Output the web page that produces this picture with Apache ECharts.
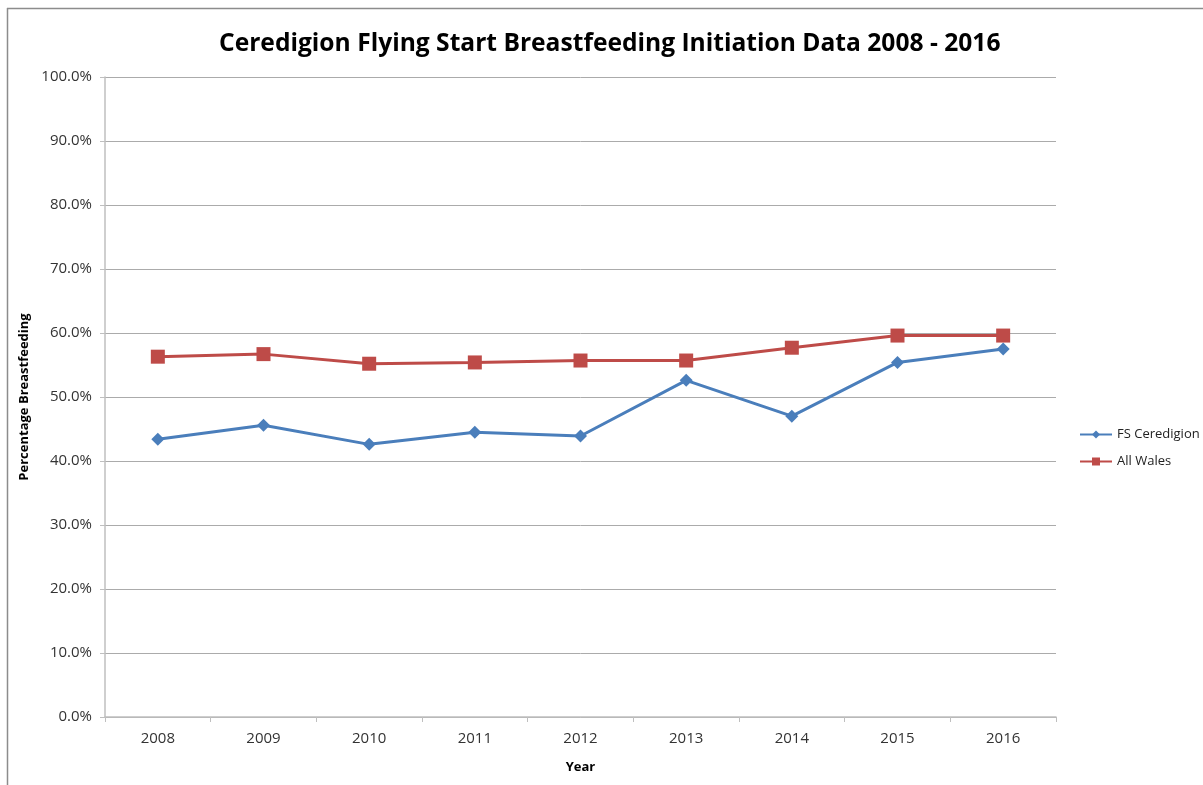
<!DOCTYPE html>
<html>
<head>
<meta charset="utf-8">
<title>Ceredigion Flying Start Breastfeeding</title>
<script src="https://cdn.jsdelivr.net/npm/echarts@6/dist/echarts.min.js"></script>
<style>
  html, body { margin: 0; padding: 0; background: #fff; }
  #chart { width: 1203px; height: 785px; }
</style>
</head>
<body>
<div id="chart"></div>
<script>
// years on the x axis
const years = ['2008', '2009', '2010', '2011', '2012', '2013', '2014', '2015', '2016'];
// percentages
const fsCeredigion = [43.4, 45.6, 42.6, 44.5, 43.9, 52.6, 47.0, 55.4, 57.5];
const allWales = [56.3, 56.7, 55.2, 55.4, 55.7, 55.7, 57.7, 59.6, 59.6];

const font = '"Open Sans", sans-serif';
const chart = echarts.init(document.getElementById('chart'));

const option = {
  backgroundColor: '#fff',
  animation: false,
  title: {
    text: 'Ceredigion Flying Start Breastfeeding Initiation Data 2008 - 2016',
    left: 214,
    top: 26,
    textStyle: { fontFamily: font, fontSize: 24.6, fontWeight: 'bold', color: '#000' }
  },
  legend: {
    orient: 'vertical',
    left: 1074,
    top: 423,
    itemWidth: 32,
    itemHeight: 10,
    itemGap: 14,
    textStyle: { fontFamily: font, fontSize: 13, color: '#222' },
    data: ['FS Ceredigion', 'All Wales']
  },
  grid: { left: 105, right: 147, top: 77, bottom: 68, containLabel: false },
  xAxis: {
    type: 'category',
    data: years,
    boundaryGap: true,
    name: 'Year',
    nameLocation: 'middle',
    nameGap: 44,
    nameTextStyle: { fontFamily: font, fontSize: 13, fontWeight: 'bold', color: '#000' },
    axisLine: { lineStyle: { color: '#bfbfbf', width: 1.5 } },
    axisTick: { show: true, length: 5, lineStyle: { color: '#bfbfbf' } },
    axisLabel: { fontFamily: font, fontSize: 15, color: '#333', margin: 14 }
  },
  yAxis: {
    type: 'value',
    min: 0,
    max: 100,
    interval: 10,
    name: 'Percentage Breastfeeding',
    nameLocation: 'middle',
    nameGap: 67,
    nameTextStyle: { fontFamily: font, fontSize: 13, fontWeight: 'bold', color: '#000' },
    axisLine: { show: true, lineStyle: { color: '#bfbfbf', width: 1.5 } },
    axisTick: { show: true, length: 5, lineStyle: { color: '#bfbfbf' } },
    splitLine: { lineStyle: { color: '#ababab', width: 1 } },
    axisLabel: {
      fontFamily: font, fontSize: 15, color: '#333', margin: 13,
      formatter: v => v.toFixed(1) + '%'
    }
  },
  series: [
    {
      name: 'FS Ceredigion',
      type: 'line',
      data: fsCeredigion,
      symbol: 'diamond',
      symbolSize: 13,
      lineStyle: { color: '#4a7ebb', width: 3 },
      itemStyle: { color: '#4a7ebb' }
    },
    {
      name: 'All Wales',
      type: 'line',
      data: allWales,
      symbol: 'rect',
      symbolSize: 14,
      lineStyle: { color: '#be4b48', width: 3 },
      itemStyle: { color: '#be4b48' }
    }
  ],
  graphic: [
    // outer frame, only the top and left edges are visible in the picture
    { type: 'line', shape: { x1: 7, y1: 8.5, x2: 1203, y2: 8.5 }, style: { stroke: '#8c8c8c', lineWidth: 1.5 } },
    { type: 'line', shape: { x1: 7.5, y1: 8, x2: 7.5, y2: 785 }, style: { stroke: '#8c8c8c', lineWidth: 1.5 } }
  ]
};

chart.setOption(option);
</script>
</body>
</html>
